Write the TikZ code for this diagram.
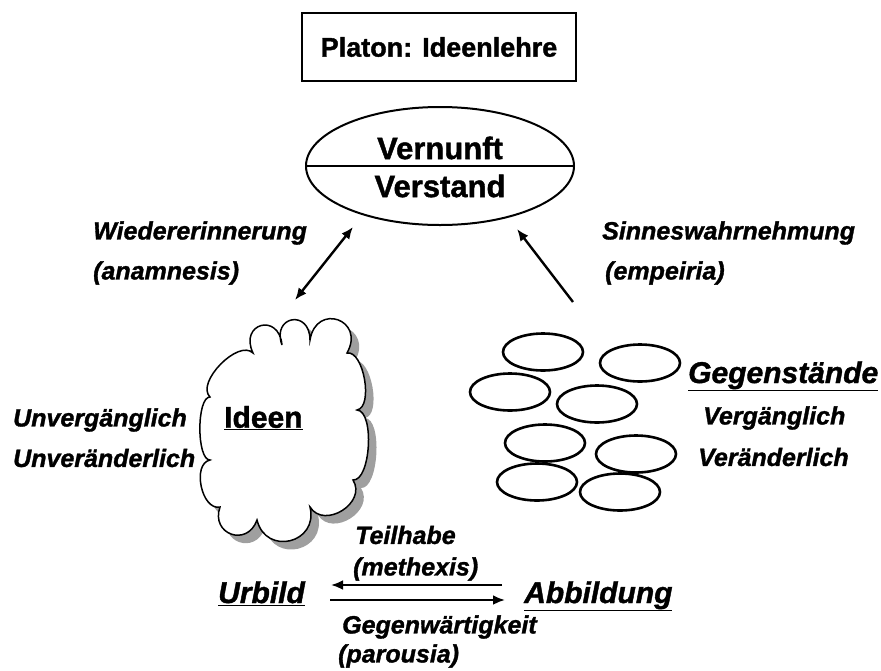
\documentclass[tikz,border=0pt]{standalone}
\usepackage{fontspec}
\setmainfont{Liberation Sans}[BoldFeatures={FakeBold=1.3},BoldItalicFeatures={FakeBold=1.3}]
\usetikzlibrary{shapes.geometric,arrows.meta}

\tikzset{
  lbl/.style={font=\fontsize{25}{28}\selectfont\bfseries\itshape, inner sep=0pt, anchor=west},
  big/.style={font=\fontsize{30}{34}\selectfont\bfseries, inner sep=0pt, anchor=west},
  bigit/.style={font=\fontsize{30}{34}\selectfont\bfseries\itshape, inner sep=0pt, anchor=base west},
  ding/.style={draw, ellipse, line width=2.6pt, minimum width=80pt, minimum height=37pt, inner sep=0pt},
  arr/.style={line width=2.4pt, -{Latex[length=12pt,width=10pt]}},
}
% Umriss der Wolke
\def\wolke{(210,397) to[bend left=90, looseness=0.85] (253,353)
  to[bend left=100, looseness=2.8] (282,345)
  to[bend left=100, looseness=2.8] (310,340)
  to[bend left=100, looseness=2.5] (347,353)
  to[bend left=90, looseness=0.75] (357,410)
  to[bend left=90, looseness=0.65] (353,480)
  to[bend left=90, looseness=1.35] (310,507)
  to[bend left=90, looseness=1.75] (257,520)
  to[bend left=90, looseness=1.9] (220,507)
  to[bend left=90, looseness=1.0] (210,460)
  to[bend left=90, looseness=0.55] cycle}

\begin{document}
\begin{tikzpicture}[x=1pt,y=-1pt]
\useasboundingbox (0,0) rectangle (881,670);

% Titel
\node[draw, line width=2.5pt, minimum width=274pt, minimum height=68pt,
  font=\fontsize{27}{30}\selectfont\bfseries] (titel) at (439,47)
	{Platon: Ideenlehre};

% Vernunft / Verstand
\node[draw, ellipse, line width=2pt, minimum width=268pt, minimum height=118pt] (vv) at (440,166) {};
\draw[line width=2pt] (vv.west) -- (vv.east);
\node[font=\fontsize{31}{34}\selectfont\bfseries] (vernunft) at (440,148) {Vernunft};
\node[font=\fontsize{31}{34}\selectfont\bfseries] (verstand) at (440,186) {Verstand};

% Erkenntniswege
\node[lbl] (wieder) at (93,233) {Wiedererinnerung};
\node[lbl] (anam) at (93,273) {(anamnesis)};
\node[lbl] (sinne) at (602,233) {Sinneswahrnehmung};
\node[lbl] (empe) at (605,273) {(empeiria)};

\coordinate (a1) at (295,300);
\coordinate (a2) at (353,227);
\coordinate (b1) at (573,302);
\coordinate (b2) at (517,229);
\draw[arr, {Latex[length=12pt,width=10pt]}-{Latex[length=12pt,width=10pt]}] (a1) -- (a2);
\draw[arr] (b1) -- (b2);

% Ideen
\fill[gray!75, shift={(8,8)}] \wolke;
\draw[line width=1.5pt, fill=white] \wolke;
\node[big] (ideen) at (224,418) {\underline{Ideen}};
\node[lbl] (unverg) at (13,420) {Unvergänglich};
\node[lbl] (unver) at (13,458) {Unveränderlich};

% Gegenstaende
\foreach \i/\p in {1/{(543,352)}, 2/{(640,363)}, 3/{(510,392)}, 4/{(597,404)},
                   5/{(545,443)}, 6/{(636,454)}, 7/{(537,482)}, 8/{(620,492)}}
	\node[ding] (g\i) at \p {};
\node[bigit] (gegen) at (688,383) {\underline{Gegenstände}};
\node[lbl] (verg) at (703,418) {Vergänglich};
\node[lbl] (veraend) at (698,457) {Veränderlich};

% Urbild / Abbildung
\node[bigit] (urbild) at (218,603) {\underline{Urbild}};
\node[bigit] (abbild) at (524,603) {\underline{Abbildung}};
\node[lbl] (teil) at (355,535) {Teilhabe};
\node[lbl] (meth) at (353,569) {(methexis)};
\node[lbl] (gegenw) at (342,627) {Gegenwärtigkeit};
\node[lbl] (paro) at (338,656) {(parousia)};

\coordinate (t1) at (502,585);
\coordinate (t2) at (331,585);
\coordinate (p1) at (330,600);
\coordinate (p2) at (505,600);
\draw[arr] (t1) -- (t2);
\draw[arr] (p1) -- (p2);
\end{tikzpicture}
\end{document}
